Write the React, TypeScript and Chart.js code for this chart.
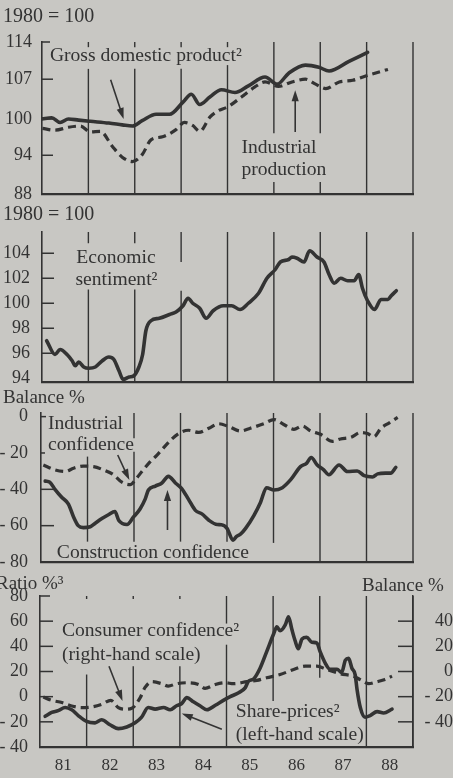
import React, { useEffect, useRef } from 'react';
import { Chart, registerables } from 'chart.js';

Chart.register(...registerables);

const FONT = '"Liberation Serif", "Times New Roman", Times, serif';
const INK = '#333333';
const BG = '#c8c7c3';

// ---------------- data ----------------
// Panel 1: 1980 = 100
const gdpYears = [1981.0, 1981.21, 1981.39, 1981.57, 1981.79, 1982.04, 1982.44, 1982.73, 1982.95, 1983.16, 1983.46, 1983.75, 1984.04, 1984.22, 1984.4, 1984.62, 1984.87, 1985.16, 1985.45, 1985.81, 1986.07, 1986.32, 1986.68, 1986.97, 1987.19, 1987.62, 1988.02];
const gdpValues = [100.0, 100.2, 99.4, 100.0, 99.8, 99.6, 99.3, 99.0, 98.8, 99.7, 100.8, 100.8, 102.9, 104.3, 102.5, 103.8, 105.1, 104.6, 105.8, 107.4, 106.1, 108.1, 109.6, 109.2, 108.5, 110.3, 112.0];
const ipYears = [1981.01, 1981.28, 1981.57, 1981.83, 1982.04, 1982.26, 1982.51, 1982.73, 1982.95, 1983.16, 1983.35, 1983.6, 1983.89, 1984.07, 1984.25, 1984.4, 1984.62, 1984.8, 1985.01, 1985.3, 1985.59, 1985.81, 1986.1, 1986.39, 1986.68, 1986.9, 1987.12, 1987.41, 1987.7, 1987.98, 1988.46];
const ipValues = [98.4, 98.1, 98.6, 98.8, 97.8, 97.9, 95.5, 93.7, 93.0, 94.1, 96.5, 97.0, 98.2, 99.4, 98.9, 97.9, 100.3, 101.4, 102.1, 103.8, 105.6, 106.5, 105.7, 106.5, 107.0, 106.1, 105.3, 106.5, 106.8, 107.6, 108.8];
const panel1Ticks = [88, 94, 100, 107, 114];
const panel1TickLabels = ['88', '94', '100', '107', '114'];

// Panel 2: economic sentiment, 1980 = 100
const sentimentYears = [1981.1, 1981.28, 1981.39, 1981.54, 1981.65, 1981.72, 1981.79, 1981.9, 1982.01, 1982.15, 1982.3, 1982.44, 1982.55, 1982.66, 1982.75, 1982.88, 1982.98, 1983.09, 1983.17, 1983.24, 1983.35, 1983.53, 1983.75, 1983.89, 1984.04, 1984.15, 1984.25, 1984.4, 1984.54, 1984.69, 1984.91, 1985.09, 1985.27, 1985.45, 1985.67, 1985.85, 1986.03, 1986.14, 1986.32, 1986.39, 1986.5, 1986.65, 1986.77, 1986.93, 1987.08, 1987.19, 1987.3, 1987.44, 1987.59, 1987.73, 1987.83, 1987.91, 1988.02, 1988.17, 1988.31, 1988.46, 1988.53, 1988.64];
const sentimentValues = [97.0, 95.9, 96.3, 95.9, 95.4, 95.0, 95.3, 94.9, 94.8, 94.9, 95.4, 95.7, 95.5, 94.6, 93.9, 94.1, 94.2, 94.9, 95.9, 97.8, 98.6, 98.8, 99.1, 99.3, 99.8, 100.4, 100.0, 99.6, 98.8, 99.4, 99.8, 99.8, 99.5, 100.0, 100.8, 102.0, 102.7, 103.3, 103.5, 103.7, 103.6, 103.3, 104.2, 103.7, 103.3, 102.3, 101.6, 102.0, 101.8, 101.8, 102.3, 101.2, 100.2, 99.5, 100.3, 100.3, 100.6, 101.0];
const panel2Ticks = [94, 96, 98, 100, 102, 104];
const panel2TickLabels = ['94', '96', '98', '100', '102', '104'];

// Panel 3: balance %
const constructionYears = [1981.09, 1981.19, 1981.3, 1981.45, 1981.59, 1981.7, 1981.8, 1981.91, 1982.06, 1982.16, 1982.31, 1982.45, 1982.59, 1982.67, 1982.85, 1982.99, 1983.13, 1983.24, 1983.31, 1983.46, 1983.6, 1983.74, 1983.89, 1984.03, 1984.17, 1984.32, 1984.46, 1984.61, 1984.79, 1984.88, 1985.0, 1985.13, 1985.2, 1985.29, 1985.4, 1985.58, 1985.72, 1985.85, 1986.01, 1986.19, 1986.37, 1986.58, 1986.71, 1986.81, 1986.94, 1987.08, 1987.19, 1987.41, 1987.59, 1987.8, 1987.95, 1988.13, 1988.24, 1988.41, 1988.52, 1988.63];
const constructionValues = [-35.5, -36.1, -40.0, -44.5, -48.1, -55.2, -60.0, -61.1, -60.6, -58.8, -56.1, -54.0, -52.2, -57.0, -59.4, -55.2, -50.8, -45.4, -40.4, -38.2, -36.5, -32.9, -36.5, -39.7, -45.4, -51.6, -53.5, -57.0, -59.4, -59.5, -61.5, -68.0, -66.0, -64.7, -61.5, -54.3, -47.2, -39.1, -40.4, -39.1, -34.7, -27.5, -25.7, -22.5, -26.6, -29.3, -32.0, -26.6, -30.2, -29.9, -32.5, -33.2, -31.5, -31.1, -31.1, -27.9];
const industrialConfYears = [1981.05, 1981.3, 1981.52, 1981.7, 1981.91, 1982.13, 1982.34, 1982.56, 1982.74, 1982.92, 1983.03, 1983.17, 1983.35, 1983.49, 1983.78, 1983.96, 1984.17, 1984.39, 1984.61, 1984.82, 1985.04, 1985.29, 1985.5, 1985.79, 1986.01, 1986.22, 1986.44, 1986.62, 1986.8, 1987.01, 1987.27, 1987.44, 1987.66, 1987.88, 1988.02, 1988.16, 1988.31, 1988.49, 1988.67];
const industrialConfValues = [-26.6, -29.3, -30.2, -28.4, -27.2, -27.5, -29.3, -32.0, -36.1, -37.4, -34.7, -30.2, -24.8, -21.3, -13.2, -9.3, -7.5, -8.7, -6.4, -3.9, -5.5, -7.9, -6.4, -3.9, -1.6, -4.3, -7.0, -5.2, -7.9, -9.7, -13.6, -12.3, -11.4, -8.7, -9.3, -11.1, -6.4, -3.4, -0.4];
const panel3Ticks = [-80, -60, -40, -20, 0];
const panel3TickLabels = ['- 80', '- 60', '- 40', '- 20', '0'];

// Panel 4: share prices (ratio %, left) and consumer confidence (balance %, right)
const shareYears = [1981.11, 1981.25, 1981.39, 1981.54, 1981.68, 1981.82, 1982.0, 1982.18, 1982.32, 1982.5, 1982.68, 1982.86, 1983.04, 1983.18, 1983.32, 1983.47, 1983.65, 1983.79, 1983.93, 1984.04, 1984.15, 1984.29, 1984.43, 1984.58, 1984.76, 1984.97, 1985.08, 1985.26, 1985.4, 1985.47, 1985.58, 1985.72, 1985.86, 1986.01, 1986.08, 1986.15, 1986.26, 1986.33, 1986.4, 1986.47, 1986.54, 1986.62, 1986.72, 1986.83, 1986.94, 1987.01, 1987.12, 1987.22, 1987.37, 1987.47, 1987.55, 1987.62, 1987.69, 1987.76, 1987.8, 1987.87, 1987.97, 1988.08, 1988.23, 1988.37, 1988.55];
const shareValues = [-15.6, -12.5, -11.1, -8.6, -10.4, -15.0, -19.7, -20.8, -18.4, -22.3, -25.4, -24.1, -20.8, -16.3, -8.6, -9.9, -8.6, -10.4, -7.2, -5.4, -0.8, -4.1, -7.2, -10.4, -6.8, -2.1, 0.0, 3.1, 7.0, 12.2, 14.0, 22.6, 35.6, 49.8, 55.5, 52.4, 57.0, 63.5, 53.7, 44.6, 38.1, 45.9, 47.2, 43.3, 42.6, 35.6, 26.5, 21.8, 21.8, 19.2, 29.0, 30.4, 22.6, 17.4, 5.7, -8.6, -16.3, -15.0, -11.9, -13.0, -9.9];
const consumerYears = [1981.07, 1981.25, 1981.47, 1981.68, 1981.89, 1982.11, 1982.32, 1982.52, 1982.68, 1982.82, 1982.97, 1983.15, 1983.25, 1983.4, 1983.61, 1983.75, 1983.93, 1984.18, 1984.4, 1984.54, 1984.76, 1984.97, 1985.15, 1985.44, 1985.65, 1985.86, 1986.15, 1986.44, 1986.69, 1986.94, 1987.15, 1987.44, 1987.72, 1987.9, 1988.05, 1988.23, 1988.4, 1988.55];
const consumerValues = [-20.3, -22.9, -24.7, -27.4, -28.7, -28.2, -26.1, -22.9, -28.7, -30.0, -29.2, -20.8, -12.9, -8.1, -9.7, -11.6, -9.7, -8.9, -10.3, -13.4, -10.3, -8.9, -9.7, -8.1, -7.1, -5.0, -2.4, 1.6, 4.2, 4.2, 1.6, -1.8, -3.7, -7.1, -9.7, -8.1, -6.3, -3.7];
const panel4LeftTicks = [-40, -20, 0, 20, 40, 60, 80];
const panel4LeftTickLabels = ['- 40', '- 20', '0', '20', '40', '60', '80'];
const panel4RightTicks = [-40, -20, 0, 20, 40];
const panel4RightTickLabels = ['- 40', '- 20', '0', '20', '40'];

// x axis
const yearTickValues = [1981.5, 1982.5, 1983.5, 1984.5, 1985.5, 1986.5, 1987.5, 1988.5];
const yearTickLabels = ['81', '82', '83', '84', '85', '86', '87', '88'];

// ---------------- helpers ----------------
const pts = (xs: number[], ys: number[]) => xs.map((x, i) => ({ x, y: ys[i] }));

const solid = (data: any, axis = 'y') => ({
  data, yAxisID: axis, borderColor: INK, borderWidth: 3.6, pointRadius: 0,
  cubicInterpolationMode: 'monotone', borderJoinStyle: 'round', borderCapStyle: 'round', fill: false,
});
const dashed = (data: any, axis = 'y') => ({
  data, yAxisID: axis, borderColor: INK, borderWidth: 3.2, pointRadius: 0, borderDash: [8, 5],
  cubicInterpolationMode: 'monotone', borderJoinStyle: 'round', borderCapStyle: 'butt', fill: false,
});

type Seg = [number, number, number];
type Tick = [number, number];
type Note = { text: string; x: number; y: number };
type Arrow = { from: [number, number]; to: [number, number] };

interface PanelSpec {
  top: number; height: number; padTop: number; padBottom: number;
  datasets: any[]; y: any; y2?: any; showYears?: boolean;
  grid: Seg[]; leftTicks: Tick[]; rightTicks?: Tick[]; notes: Note[]; arrows: Arrow[];
}

const noPad = (s: any) => { s.paddingTop = 0; s.paddingBottom = 0; };

const yAxis = (type: string, min: number, max: number, ticks: number[], labels: string[], width: number, pad: number) => ({
  type, min, max, position: 'left',
  afterFit: (s: any) => { s.width = width; noPad(s); },
  afterBuildTicks: (s: any) => { s.ticks = ticks.map((v) => ({ value: v })); },
  grid: { display: false, drawTicks: false },
  border: { display: true, color: INK, width: 1.6 },
  ticks: {
    color: INK, padding: pad, font: { family: FONT, size: 18 },
    callback: (v: number) => { const i = ticks.indexOf(v); return i >= 0 ? labels[i] : ''; },
  },
});

function decor(spec: PanelSpec) {
  return {
    id: 'decor',
    beforeDatasetsDraw(chart: any) {
      const { ctx, chartArea } = chart;
      const xs = chart.scales.x;
      const ys = chart.scales.y;
      ctx.save();
      ctx.strokeStyle = INK;
      ctx.lineWidth = 1.4;
      spec.grid.forEach(([yr, a, b]) => {
        const px = xs.getPixelForValue(yr);
        ctx.beginPath();
        ctx.moveTo(px, ys.getPixelForValue(a));
        ctx.lineTo(px, ys.getPixelForValue(b));
        ctx.stroke();
      });
      ctx.lineWidth = 1.5;
      spec.leftTicks.forEach(([v, len]) => {
        const py = ys.getPixelForValue(v);
        ctx.beginPath();
        ctx.moveTo(chartArea.left, py);
        ctx.lineTo(chartArea.left + len, py);
        ctx.stroke();
      });
      if (spec.rightTicks && chart.scales.y2) {
        const y2 = chart.scales.y2;
        spec.rightTicks.forEach(([v, len]) => {
          const py = y2.getPixelForValue(v);
          ctx.beginPath();
          ctx.moveTo(chartArea.right, py);
          ctx.lineTo(chartArea.right - len, py);
          ctx.stroke();
        });
      }
      ctx.restore();
    },
    afterDatasetsDraw(chart: any) {
      const { ctx } = chart;
      const xs = chart.scales.x;
      const ys = chart.scales.y;
      ctx.save();
      ctx.fillStyle = INK;
      ctx.font = `19.6px ${FONT}`;
      ctx.textAlign = 'left';
      ctx.textBaseline = 'middle';
      spec.notes.forEach((n) => {
        ctx.fillText(n.text, xs.getPixelForValue(n.x), ys.getPixelForValue(n.y));
      });
      ctx.strokeStyle = INK;
      ctx.lineWidth = 1.6;
      spec.arrows.forEach((a) => {
        const x1 = xs.getPixelForValue(a.from[0]);
        const y1 = ys.getPixelForValue(a.from[1]);
        const x2 = xs.getPixelForValue(a.to[0]);
        const y2 = ys.getPixelForValue(a.to[1]);
        const ang = Math.atan2(y2 - y1, x2 - x1);
        const L = 11, W = 3.6;
        const c = Math.cos(ang), s = Math.sin(ang);
        ctx.beginPath();
        ctx.moveTo(x1, y1);
        ctx.lineTo(x2 - L * 0.7 * c, y2 - L * 0.7 * s);
        ctx.stroke();
        ctx.beginPath();
        ctx.moveTo(x2, y2);
        ctx.lineTo(x2 - L * c + W * s, y2 - L * s - W * c);
        ctx.lineTo(x2 - L * c - W * s, y2 - L * s + W * c);
        ctx.closePath();
        ctx.fill();
      });
      ctx.restore();
    },
  };
}

function Panel({ spec }: { spec: PanelSpec }) {
  const ref = useRef<HTMLCanvasElement | null>(null);
  useEffect(() => {
    if (!ref.current) return;
    const scales: any = {
      x: {
        type: 'linear', min: 1981, max: 1989,
        grid: { display: false, drawTicks: false },
        border: { display: true, color: INK, width: 2.2 },
        afterFit: (s: any) => { s.height = spec.showYears ? 31 : 0; s.paddingLeft = 0; s.paddingRight = 0; },
        ticks: spec.showYears
          ? {
              display: true, autoSkip: false, maxRotation: 0, color: INK, padding: 8,
              font: { family: FONT, size: 17 },
              callback: (v: number) => { const i = yearTickValues.indexOf(v); return i >= 0 ? yearTickLabels[i] : ''; },
            }
          : { display: false },
        afterBuildTicks: (s: any) => { s.ticks = yearTickValues.map((v) => ({ value: v })); },
      },
      y: spec.y,
    };
    if (spec.y2) scales.y2 = spec.y2;
    const chart = new Chart(ref.current, {
      type: 'line',
      data: { datasets: spec.datasets },
      options: {
        responsive: false,
        animation: false,
        events: [],
        layout: { padding: { left: 0, right: spec.y2 ? 0 : 40, top: spec.padTop, bottom: spec.padBottom } },
        plugins: { legend: { display: false }, tooltip: { enabled: false } },
        scales,
      } as any,
      plugins: [decor(spec) as any],
    });
    return () => chart.destroy();
  }, [spec]);
  return (
    <canvas
      ref={ref}
      width={453}
      height={spec.height}
      style={{ position: 'absolute', left: 0, top: spec.top, width: 453, height: spec.height }}
    />
  );
}

const panel1: PanelSpec = {
  top: 25, height: 180, padTop: 17, padBottom: 11,
  datasets: [solid(pts(gdpYears, gdpValues)), dashed(pts(ipYears, ipValues))],
  y: yAxis('logarithmic', 88, 114, panel1Ticks, panel1TickLabels, 42, 10),
  grid: [
    [1982, 114, 113], [1982, 108.9, 88],
    [1983, 114, 113], [1983, 108.9, 88],
    [1984, 114, 113], [1984, 108.9, 88],
    [1985, 114, 113], [1985, 109.6, 88],
    [1986, 114, 97.6], [1986, 89.8, 88],
    [1987, 114, 97.6], [1987, 89.8, 88],
    [1988, 114, 88], [1989, 114, 88],
  ],
  leftTicks: [[114, 8], [107, 11], [100, 11], [94, 11]],
  notes: [
    { text: 'Gross domestic product\u00B2', x: 1981.17, y: 111.3 },
    { text: 'Industrial', x: 1985.3, y: 95.2 },
    { text: 'production', x: 1985.3, y: 91.7 },
  ],
  arrows: [
    { from: [1982.48, 106.9], to: [1982.76, 100.0] },
    { from: [1986.46, 97.8], to: [1986.46, 105.0] },
  ],
};

const panel2: PanelSpec = {
  top: 220, height: 172, padTop: 12, padBottom: 10,
  datasets: [solid(pts(sentimentYears, sentimentValues))],
  y: yAxis('linear', 93.7, 105.7, panel2Ticks, panel2TickLabels, 42, 12),
  grid: [
    [1982, 105.7, 104.8], [1982, 101.1, 93.7],
    [1983, 105.7, 104.8], [1983, 101.1, 93.7],
    [1984, 105.7, 103.3], [1984, 101.0, 93.7],
    [1985, 105.7, 93.7], [1986, 105.7, 93.7], [1987, 105.7, 93.7], [1988, 105.7, 93.7], [1989, 105.7, 93.7],
  ],
  leftTicks: [[104, 12], [102, 12], [100, 12], [98, 12], [96, 12]],
  notes: [
    { text: 'Economic', x: 1981.74, y: 103.6 },
    { text: 'sentiment\u00B2', x: 1981.72, y: 101.86 },
  ],
  arrows: [],
};

const panel3: PanelSpec = {
  top: 402, height: 173, padTop: 11, padBottom: 13,
  datasets: [solid(pts(constructionYears, constructionValues)), dashed(pts(industrialConfYears, industrialConfValues))],
  y: yAxis('linear', -80, 2, panel3Ticks, panel3TickLabels, 41, 13),
  grid: [
    [1982, -22, -68.8],
    [1983, 2, -11.9], [1983, -19.3, -68.8],
    [1984, 2, -68.8], [1985, 2, -68.8], [1986, 2, -69.5],
    [1987, 2, -80], [1988, 2, -80], [1989, 2, -80],
  ],
  leftTicks: [[0, 5], [-20, 4], [-40, 13], [-60, 13]],
  notes: [
    { text: 'Industrial', x: 1981.15, y: -4.05 },
    { text: 'confidence', x: 1981.15, y: -15.6 },
    { text: 'Construction confidence', x: 1981.34, y: -74.8 },
  ],
  arrows: [
    { from: [1982.65, -21.1], to: [1982.9, -34.9] },
    { from: [1983.72, -62.4], to: [1983.72, -40.4] },
  ],
};

const panel4: PanelSpec = {
  top: 582, height: 196, padTop: 14, padBottom: 0, showYears: true,
  datasets: [solid(pts(shareYears, shareValues)), dashed(pts(consumerYears, consumerValues), 'y2')],
  y: yAxis('linear', -40, 80, panel4LeftTicks, panel4LeftTickLabels, 40, 12),
  y2: {
    type: 'linear', min: -60, max: 60, position: 'right',
    afterFit: (s: any) => { s.width = 40; noPad(s); },
    afterBuildTicks: (s: any) => { s.ticks = panel4RightTicks.map((v) => ({ value: v })); },
    grid: { display: false, drawTicks: false },
    border: { display: true, color: INK, width: 1.5 },
    ticks: {
      color: INK, crossAlign: 'far', padding: 0, font: { family: FONT, size: 18 },
      callback: (v: number) => { const i = panel4RightTicks.indexOf(v); return i >= 0 ? panel4RightTickLabels[i] : ''; },
    },
  },
  grid: [
    [1982, 80, 77.6], [1982, 17.6, -40],
    [1983, 80, 77.6], [1983, 24.2, -40],
    [1984, 80, 77.6], [1984, 24.2, -40],
    [1985, 80, 58.1], [1985, 41.3, -40],
    [1986, 80, -3.4],
    [1987, 80, 15],
    [1988, 80, -40], [1989, 80, -40],
  ],
  leftTicks: [[80, 10], [60, 13], [40, 13], [20, 13], [0, 13], [-20, 13]],
  rightTicks: [[40, 15], [20, 15], [0, 15], [-20, 15], [-40, 15]],
  notes: [
    { text: 'Consumer confidence\u00B2', x: 1981.47, y: 52.4 },
    { text: '(right-hand scale)', x: 1981.47, y: 33.4 },
    { text: 'Share-prices\u00B2', x: 1985.2, y: -12.4 },
    { text: '(left-hand scale)', x: 1985.2, y: -30.5 },
  ],
  arrows: [
    { from: [1982.48, 24.2], to: [1982.77, -3.4] },
    { from: [1984.9, -25.8], to: [1984.04, -13.4] },
  ],
};

const head: React.CSSProperties = {
  position: 'absolute', fontFamily: FONT, fontSize: 19, color: INK, lineHeight: '20px', whiteSpace: 'nowrap',
};

export default function App() {
  return (
    <div style={{ position: 'absolute', left: 0, top: 0, width: 453, height: 778, background: BG, overflow: 'hidden' }}>
      <Panel spec={panel1} />
      <Panel spec={panel2} />
      <Panel spec={panel3} />
      <Panel spec={panel4} />
      <div style={{ ...head, left: 3, top: 5, fontSize: 20 }}>1980 = 100</div>
      <div style={{ ...head, left: 3, top: 203, fontSize: 20 }}>1980 = 100</div>
      <div style={{ ...head, left: 3, top: 387 }}>Balance %</div>
      <div style={{ ...head, left: -4, top: 573 }}>Ratio %³</div>
      <div style={{ ...head, left: 362, top: 575 }}>Balance %</div>
    </div>
  );
}
